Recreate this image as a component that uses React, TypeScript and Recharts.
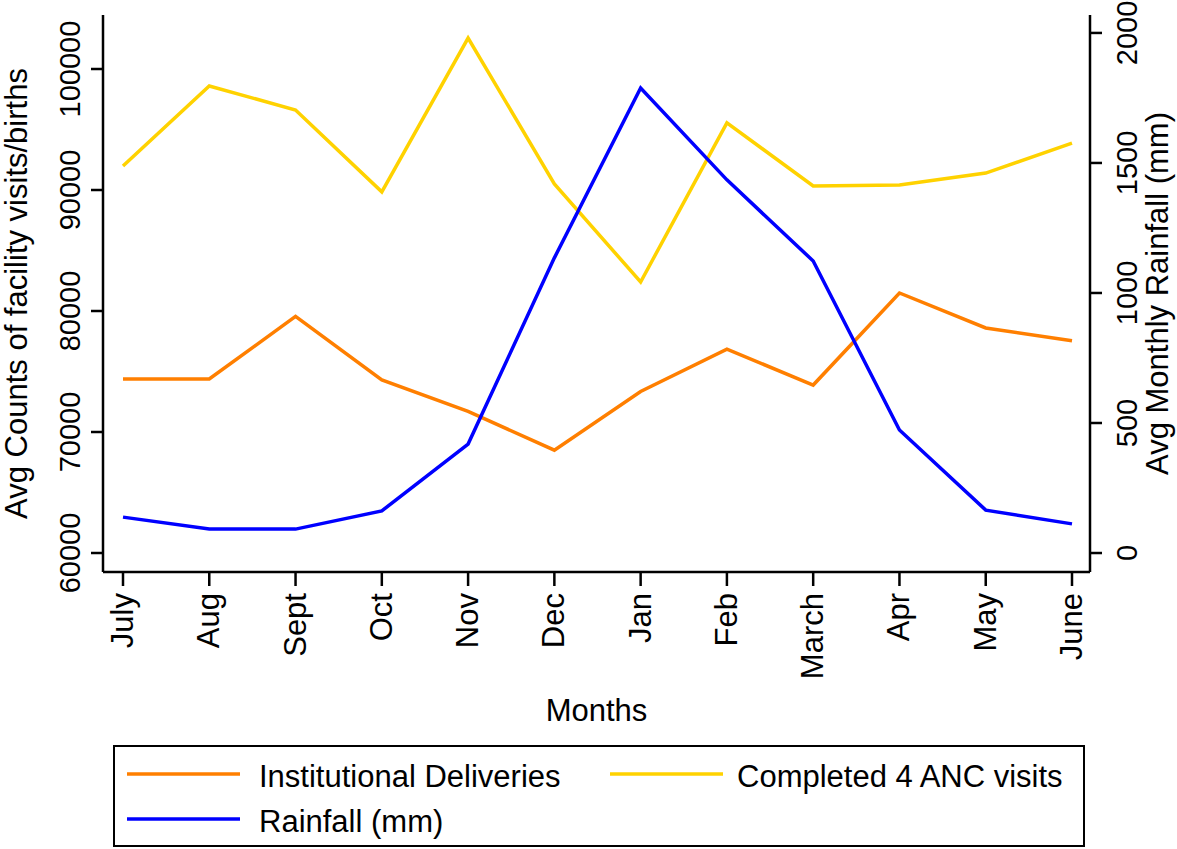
import React from 'react'
import {
  Label,
  Legend,
  Line,
  LineChart,
  XAxis,
  YAxis,
} from 'recharts'

const months = ['July', 'Aug', 'Sept', 'Oct', 'Nov', 'Dec', 'Jan', 'Feb', 'March', 'Apr', 'May', 'June']
const deliveries = [74380, 74380, 79550, 74300, 71700, 68500, 73350, 76850, 73880, 81490, 78600, 77550]
const ancVisits = [91980, 98600, 96610, 89850, 102560, 90500, 82400, 95550, 90330, 90410, 91400, 93880]
const rainfall = [138, 92, 92, 162, 419, 1135, 1788, 1435, 1123, 473, 165, 112]

const leftTicks = [60000, 70000, 80000, 90000, 100000]
const rightTicks = [0, 500, 1000, 1500, 2000]

const ORANGE = '#ff7f00'
const YELLOW = '#ffd200'
const BLUE = '#0000ff'
const FONT = '"Liberation Sans", Arial, sans-serif'

const data = months.map((month, i) => ({
  month,
  deliveries: deliveries[i],
  anc: ancVisits[i],
  rain: rainfall[i],
}))

// positions inside the legend box (box sits at 113,745)
const legendItems = [
  { label: 'Institutional Deliveries', color: ORANGE, x: 12, tx: 144, y: 29 },
  { label: 'Completed 4 ANC visits', color: YELLOW, x: 495, tx: 622, y: 29 },
  { label: 'Rainfall (mm)', color: BLUE, x: 12, tx: 144, y: 74 },
]

function MonthTick({ x, y, payload }: any) {
  return (
    <text
      x={x + 10}
      y={y + 1}
      transform={`rotate(-90 ${x + 10} ${y + 1})`}
      textAnchor="end"
      fontSize={31}
      fontFamily={FONT}
      fill="#000"
    >
      {payload.value}
    </text>
  )
}

function ValueTick({ x, y, payload }: any) {
  return (
    <text
      x={x}
      y={y}
      transform={`rotate(-90 ${x} ${y})`}
      textAnchor="middle"
      fontSize={29}
      fontFamily={FONT}
      fill="#000"
    >
      {payload.value}
    </text>
  )
}

function LegendBox() {
  return (
    <div
      style={{
        width: 972,
        height: 102,
        boxSizing: 'border-box',
        border: '2px solid #000',
        background: '#fff',
      }}
    >
      <svg width={968} height={98} style={{ display: 'block' }}>
        {legendItems.map((it) => (
          <g key={it.label}>
            <line x1={it.x} x2={it.x + 113} y1={it.y - 2} y2={it.y - 2} stroke={it.color} strokeWidth={3.5} />
            <text x={it.tx} y={it.y + 11} fontSize={31} fontFamily={FONT} fill="#000">
              {it.label}
            </text>
          </g>
        ))}
      </svg>
    </div>
  )
}

export default function App() {
  return (
    <div style={{ position: 'absolute', left: 0, top: 0, background: '#fff' }}>
      <LineChart
        width={1177}
        height={849}
        data={data}
        margin={{ top: 15, right: 0, left: 0, bottom: 0 }}
      >
        <XAxis
          xAxisId="top"
          dataKey="month"
          orientation="top"
          height={0}
          tick={false}
          tickLine={false}
          axisLine={{ stroke: '#000', strokeWidth: 2.5 }}
          padding={{ left: 20, right: 18 }}
        />
        <XAxis
          xAxisId="bottom"
          dataKey="month"
          height={175}
          interval={0}
          tick={<MonthTick />}
          tickSize={14}
          tickMargin={6}
          tickLine={{ stroke: '#000', strokeWidth: 2.5 }}
          axisLine={{ stroke: '#000', strokeWidth: 2.5 }}
          padding={{ left: 20, right: 18 }}
        >
          <Label
            content={({ viewBox }: any) => (
              <text
                x={viewBox.x + viewBox.width / 2}
                y={viewBox.y + 149}
                textAnchor="middle"
                fontSize={31}
                fontFamily={FONT}
                fill="#000"
              >
                Months
              </text>
            )}
          />
        </XAxis>
        <YAxis
          yAxisId="left"
          width={103}
          domain={[58430, 104463]}
          ticks={leftTicks}
          type="number"
          allowDataOverflow
          tick={<ValueTick />}
          tickSize={12}
          tickMargin={11}
          tickLine={{ stroke: '#000', strokeWidth: 2.5 }}
          axisLine={{ stroke: '#000', strokeWidth: 2.5 }}
        >
          <Label
            content={({ viewBox }: any) => {
              const cx = 27
              const cy = viewBox.y + viewBox.height / 2
              return (
                <text
                  x={cx}
                  y={cy}
                  transform={`rotate(-90 ${cx} ${cy})`}
                  textAnchor="middle"
                  fontSize={31}
                  fontFamily={FONT}
                  fill="#000"
                >
                  Avg Counts of facility visits/births
                </text>
              )
            }}
          />
        </YAxis>
        <YAxis
          yAxisId="right"
          orientation="right"
          width={87}
          domain={[-73, 2069]}
          ticks={rightTicks}
          type="number"
          allowDataOverflow
          tick={<ValueTick />}
          tickSize={12}
          tickMargin={35}
          tickLine={{ stroke: '#000', strokeWidth: 2.5 }}
          axisLine={{ stroke: '#000', strokeWidth: 2.5 }}
        >
          <Label
            content={({ viewBox }: any) => {
              const cx = viewBox.x + 78
              const cy = viewBox.y + viewBox.height / 2
              return (
                <text
                  x={cx}
                  y={cy}
                  transform={`rotate(-90 ${cx} ${cy})`}
                  textAnchor="middle"
                  fontSize={31}
                  fontFamily={FONT}
                  fill="#000"
                >
                  Avg Monthly Rainfall (mm)
                </text>
              )
            }}
          />
        </YAxis>
        <Legend
          verticalAlign="bottom"
          content={<LegendBox />}
          wrapperStyle={{ left: 113, top: 745, width: 972, height: 102 }}
        />
        <Line
          xAxisId="bottom"
          yAxisId="left"
          type="linear"
          dataKey="deliveries"
          name="Institutional Deliveries"
          stroke={ORANGE}
          strokeWidth={3.5}
          dot={false}
          isAnimationActive={false}
        />
        <Line
          xAxisId="bottom"
          yAxisId="left"
          type="linear"
          dataKey="anc"
          name="Completed 4 ANC visits"
          stroke={YELLOW}
          strokeWidth={3.5}
          dot={false}
          isAnimationActive={false}
        />
        <Line
          xAxisId="bottom"
          yAxisId="right"
          type="linear"
          dataKey="rain"
          name="Rainfall (mm)"
          stroke={BLUE}
          strokeWidth={3.5}
          dot={false}
          isAnimationActive={false}
        />
      </LineChart>
    </div>
  )
}
